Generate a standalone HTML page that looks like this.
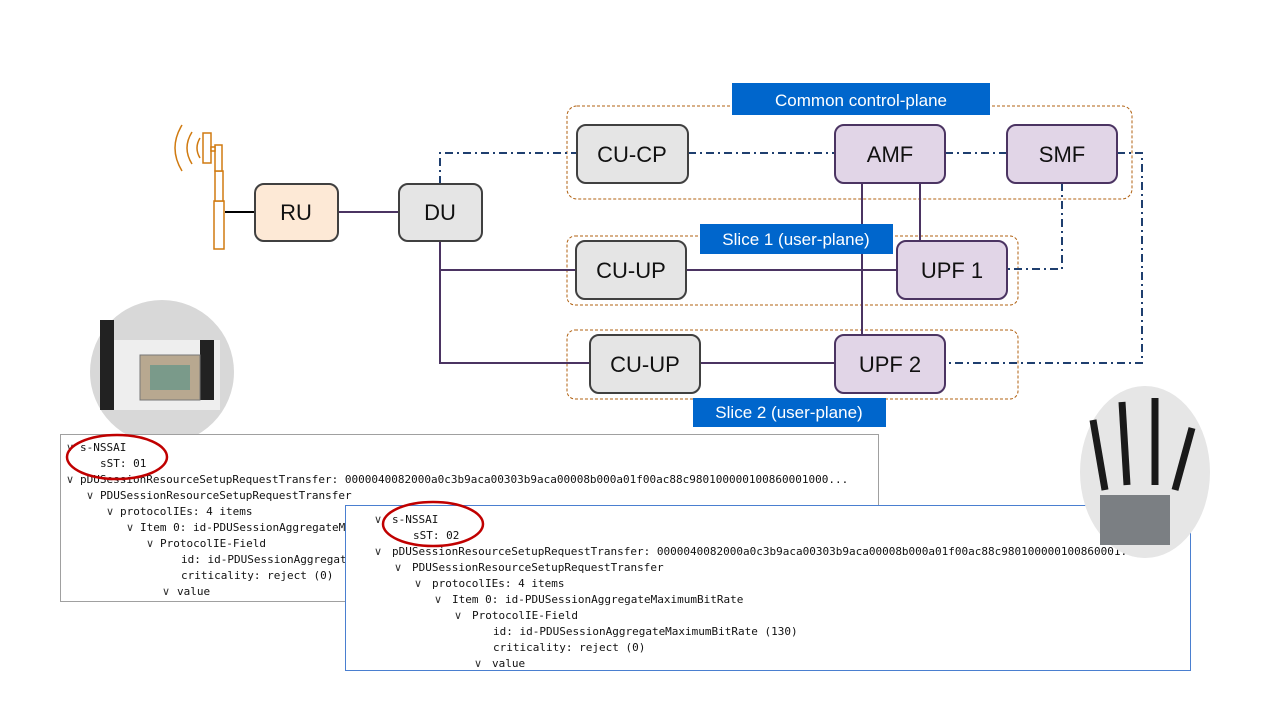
<!DOCTYPE html>
<html><head><meta charset="utf-8"><style>
body{margin:0;background:#fff;}
svg{display:block}
.m{font-family:"DejaVu Sans Mono","Liberation Mono",monospace;font-size:11px;fill:#111}
.c{font-family:"DejaVu Sans",sans-serif;font-size:11px;fill:#333}
.b{font-family:"Liberation Sans","DejaVu Sans",sans-serif;font-size:22px;fill:#111;text-anchor:middle}
.l{font-family:"Liberation Sans",sans-serif;font-size:17px;fill:#fff;text-anchor:middle}
</style></head><body>
<svg width="1280" height="720" viewBox="0 0 1280 720" xmlns="http://www.w3.org/2000/svg">
<rect width="1280" height="720" fill="#fff"/>
<g fill="none" stroke="#b06010" stroke-width="1" stroke-dasharray="3,2">
<rect x="567" y="106" width="565" height="93" rx="10"/>
<rect x="567" y="236" width="451" height="69" rx="8"/>
<rect x="567" y="330" width="451" height="69" rx="8"/>
</g>
<g fill="none" stroke="#1f3f6f" stroke-width="2" stroke-dasharray="8,4,2,4">
<path d="M440 184 V153 H577"/>
<path d="M688 153 H835"/>
<path d="M945 153 H1007"/>
<path d="M1117 153 H1142 V363 H945"/>
<path d="M1062 183 V269 H1007"/>
</g>
<g fill="none" stroke="#4b3462" stroke-width="2">
<path d="M338 212 H399"/>
<path d="M440 241 V363 H590"/>
<path d="M440 270 H576"/>
<path d="M686 270 H897"/>
<path d="M700 363 H835"/>
<path d="M862 183 V335"/>
<path d="M920 183 V241"/>
</g>
<path d="M225 212 H255" stroke="#000" stroke-width="2"/>
<g fill="#fff" stroke="#d07a10" stroke-width="1.5">
<rect x="214" y="201" width="10" height="48"/>
<rect x="215" y="171" width="8" height="30"/>
<rect x="215" y="145" width="7" height="26"/>
<rect x="203" y="133" width="8" height="30"/>
<rect x="211" y="147" width="4" height="4"/>
<path d="M200 138 q-6 10 0 20 M192 132 q-10 16 0 32 M182 125 q-14 23 0 46" fill="none"/>
</g>
<g stroke-width="2">
<rect x="255" y="184" width="83" height="57" rx="9" fill="#fde9d6" stroke="#404040"/>
<rect x="399" y="184" width="83" height="57" rx="9" fill="#e5e5e5" stroke="#404040"/>
<rect x="577" y="125" width="111" height="58" rx="9" fill="#e5e5e5" stroke="#404040"/>
<rect x="576" y="241" width="110" height="58" rx="9" fill="#e5e5e5" stroke="#404040"/>
<rect x="590" y="335" width="110" height="58" rx="9" fill="#e5e5e5" stroke="#404040"/>
<rect x="835" y="125" width="110" height="58" rx="9" fill="#e1d5e7" stroke="#4b3462"/>
<rect x="1007" y="125" width="110" height="58" rx="9" fill="#e1d5e7" stroke="#4b3462"/>
<rect x="897" y="241" width="110" height="58" rx="9" fill="#e1d5e7" stroke="#4b3462"/>
<rect x="835" y="335" width="110" height="58" rx="9" fill="#e1d5e7" stroke="#4b3462"/>
</g>
<text class="b" x="296" y="220">RU</text>
<text class="b" x="440" y="220">DU</text>
<text class="b" x="632" y="162">CU-CP</text>
<text class="b" x="631" y="278">CU-UP</text>
<text class="b" x="645" y="372">CU-UP</text>
<text class="b" x="890" y="162">AMF</text>
<text class="b" x="1062" y="162">SMF</text>
<text class="b" x="952" y="278">UPF 1</text>
<text class="b" x="890" y="372">UPF 2</text>
<rect x="732" y="83" width="258" height="32" fill="#0066cc"/>
<text class="l" x="861" y="106">Common  control-plane</text>
<rect x="700" y="224" width="193" height="30" fill="#0066cc"/>
<text class="l" x="796" y="245">Slice 1 (user-plane)</text>
<rect x="693" y="398" width="193" height="29" fill="#0066cc"/>
<text class="l" x="789" y="418">Slice 2 (user-plane)</text>
<circle cx="162" cy="372" r="72" fill="#d8d8d8"/>
<rect x="100" y="340" width="120" height="70" fill="#eeeeee"/>
<rect x="100" y="320" width="14" height="90" fill="#222"/>
<rect x="200" y="340" width="14" height="60" fill="#222"/>
<rect x="140" y="355" width="60" height="45" fill="#b8a890" stroke="#777"/>
<rect x="150" y="365" width="40" height="25" fill="#7a9a8a"/>
<rect x="60.5" y="434.5" width="818" height="167" fill="#fff" stroke="#a0a0a0"/>
<g class="c">
<text x="66" y="451">∨</text><text x="66" y="483">∨</text><text x="86" y="499">∨</text><text x="106" y="515">∨</text><text x="126" y="531">∨</text><text x="146" y="547">∨</text><text x="162" y="595">∨</text>
</g>
<g class="m">
<text x="80" y="451">s-NSSAI</text>
<text x="100" y="467">sST: 01</text>
<text x="80" y="483">pDUSessionResourceSetupRequestTransfer: 0000040082000a0c3b9aca00303b9aca00008b000a01f00ac88c980100000100860001000...</text>
<text x="100" y="499">PDUSessionResourceSetupRequestTransfer</text>
<text x="120" y="515">protocolIEs: 4 items</text>
<text x="140" y="531">Item 0: id-PDUSessionAggregateMaximumBitRate</text>
<text x="160" y="547">ProtocolIE-Field</text>
<text x="181" y="563">id: id-PDUSessionAggregateMaximumBitRate (130)</text>
<text x="181" y="579">criticality: reject (0)</text>
<text x="177" y="595">value</text>
</g>
<rect x="345.5" y="505.5" width="845" height="165" fill="#fff" stroke="#4a7fd0"/>
<g class="c">
<text x="374" y="523">∨</text><text x="374" y="555">∨</text><text x="394" y="571">∨</text><text x="414" y="587">∨</text><text x="434" y="603">∨</text><text x="454" y="619">∨</text><text x="474" y="667">∨</text>
</g>
<g class="m">
<text x="392" y="523">s-NSSAI</text>
<text x="413" y="539">sST: 02</text>
<text x="392" y="555">pDUSessionResourceSetupRequestTransfer: 0000040082000a0c3b9aca00303b9aca00008b000a01f00ac88c980100000100860001...</text>
<text x="412" y="571">PDUSessionResourceSetupRequestTransfer</text>
<text x="432" y="587">protocolIEs: 4 items</text>
<text x="452" y="603">Item 0: id-PDUSessionAggregateMaximumBitRate</text>
<text x="472" y="619">ProtocolIE-Field</text>
<text x="493" y="635">id: id-PDUSessionAggregateMaximumBitRate (130)</text>
<text x="493" y="651">criticality: reject (0)</text>
<text x="492" y="667">value</text>
</g>
<ellipse cx="1145" cy="472" rx="65" ry="86" fill="#e6e6e6"/>
<rect x="1100" y="495" width="70" height="50" fill="#7b7f83"/>
<g stroke="#1a1a1a" stroke-width="7"><path d="M1093 420 L1105 490"/><path d="M1122 402 L1127 485"/><path d="M1155 398 L1155 485"/><path d="M1192 428 L1175 490"/></g>
<ellipse cx="117" cy="457" rx="50" ry="22" fill="none" stroke="#c00000" stroke-width="2.5"/>
<ellipse cx="433" cy="524" rx="50" ry="22" fill="none" stroke="#c00000" stroke-width="2.5"/>
</svg>
</body></html>
